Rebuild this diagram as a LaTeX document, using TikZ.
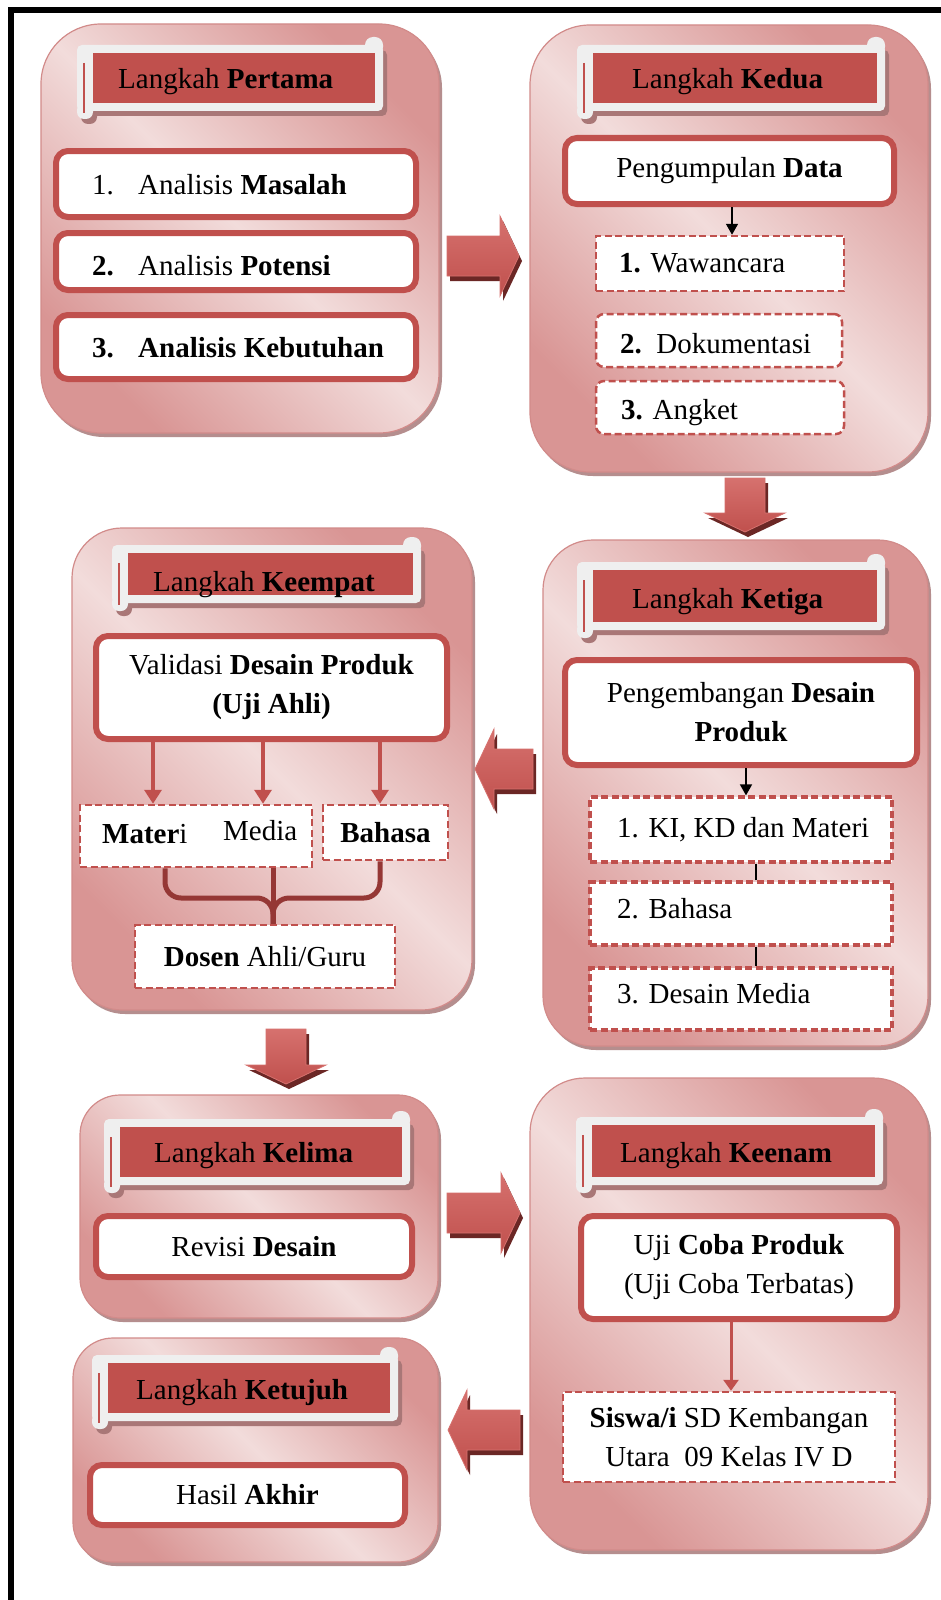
\documentclass[tikz,border=0pt]{standalone}
\usepackage{fontspec}
\setmainfont{Liberation Serif}
\usetikzlibrary{shadows,arrows.meta}
\definecolor{redc}{HTML}{C0504D}
\definecolor{bracec}{HTML}{953735}
\definecolor{pinkL}{HTML}{F2DCDB}
\definecolor{pinkD}{HTML}{D99594}
\definecolor{pinkB}{HTML}{D28B8A}
\definecolor{boxsh}{HTML}{B58E8E}
\definecolor{scrollw}{HTML}{EFEFEF}
\definecolor{scrollsh}{HTML}{A97777}
\definecolor{arrsh}{HTML}{6B2725}
\definecolor{arrlt}{HTML}{D6716E}

\newcommand{\scrollbanner}[4]{%
  \fill[scrollsh,rounded corners=5pt] (#1-12,#2-3) rectangle (#3+12,#4+13);
  \fill[scrollsh,rounded corners=7pt] (#1-12,#4+5) rectangle (#1+4,#4+21);
  \fill[scrollw,rounded corners=5pt] (#1-16,#2-8) rectangle (#3+8,#4+8);
  \fill[scrollw,rounded corners=8pt] (#3-10,#2-16) rectangle (#3+8,#2+2);
  \fill[scrollw,rounded corners=7pt] (#1-16,#4) rectangle (#1,#4+16);
  \fill[redc] (#1,#2) rectangle (#3,#4);
  \draw[redc,line width=1.2pt] (#1-9,#2+10) -- (#1-9,#4+10);
}
\newcommand{\blockarrow}[4]{%
  \begin{scope}[shift={(#1+3,#2+5)},rotate=#3]
    \fill[arrsh] (-#4,-20) -- (#4-19,-20) -- (#4-19,-40) -- (#4,0) -- (#4-19,40) -- (#4-19,20) -- (-#4,20) -- cycle;
  \end{scope}
  \begin{scope}[shift={(#1,#2)},rotate=#3]
    \shade[top color=arrlt,bottom color=redc,draw=arrlt,line width=0.8pt] (-#4,-20) -- (#4-19,-20) -- (#4-19,-40) -- (#4,0) -- (#4-19,40) -- (#4-19,20) -- (-#4,20) -- cycle;
  \end{scope}
}

\tikzset{
  bigbox/.style={draw=pinkB, line width=1.2pt, inner sep=0pt,
    left color=pinkD, right color=pinkD, middle color=pinkL, shading angle=135,
    drop shadow={shadow xshift=3pt, shadow yshift=-4pt, fill=boxsh, opacity=1}},
  txt/.style={inner sep=0pt, font=\fontsize{29pt}{39pt}\selectfont},
  solidbox/.style={txt, draw=redc, line width=6pt, fill=white, rounded corners=12pt, align=center},
  dashbox/.style={txt, draw=redc, line width=2.5pt, fill=white, dash pattern=on 7pt off 3.5pt, align=center},
  dashboxb/.style={dashbox, line width=3.2pt},
  redarrow/.style={draw=redc, line width=3.5pt, -{Triangle[length=14pt,width=17pt]}},
  blackarrow/.style={draw=black, line width=1.6pt, -{Triangle[length=11pt,width=12pt]}},
  bracestyle/.style={draw=bracec, line width=5pt, rounded corners=16pt},
}

\begin{document}
\begin{tikzpicture}[x=1pt,y=-1pt]
\useasboundingbox (0,0) rectangle (941,1600);
\fill[white] (0,0) rectangle (941,1600);
% frame
\draw[line width=6pt] (11,1600) -- (11,10) -- (941,10);

% big boxes
\node[bigbox, minimum width=398pt, minimum height=409pt, rounded corners=60pt] (b1) at (240,228.5) {};
\node[bigbox, minimum width=398pt, minimum height=447pt, rounded corners=60pt] (b2) at (729,248.5) {};
\node[bigbox, minimum width=385pt, minimum height=506pt, rounded corners=50pt] (b3) at (735.5,793) {};
\node[bigbox, minimum width=400pt, minimum height=482pt, rounded corners=50pt] (b4) at (272,769) {};
\node[bigbox, minimum width=358pt, minimum height=223pt, rounded corners=40pt] (b5) at (259,1206.5) {};
\node[bigbox, minimum width=398pt, minimum height=472pt, rounded corners=55pt] (b6) at (729,1314) {};
\node[bigbox, minimum width=365pt, minimum height=224pt, rounded corners=40pt] (b7) at (255.5,1450) {};

% block arrows between steps
\blockarrow{483}{256}{0}{36}
\blockarrow{745}{505}{-90}{27}
\blockarrow{504}{769}{180}{29}
\blockarrow{286}{1056.5}{-90}{27.5}
\blockarrow{483.5}{1213}{0}{36.5}
\blockarrow{484}{1430}{180}{36}

% banners
\scrollbanner{93}{53}{375}{103}
\scrollbanner{593}{53}{877}{103}
\scrollbanner{593}{570}{877}{622}
\scrollbanner{128}{553}{413}{595}
\scrollbanner{120}{1127}{402}{1177}
\scrollbanner{592}{1125}{875}{1177}
\scrollbanner{108}{1363}{390}{1413}

\node[txt, anchor=base west] (t1) at (118,89) {Langkah \textbf{Pertama}};
\node[txt, anchor=base west] (t2) at (632,89) {Langkah \textbf{Kedua}};
\node[txt, anchor=base west] (t3) at (632,608) {Langkah \textbf{Ketiga}};
\node[txt, anchor=base west] (t4) at (153,591) {Langkah \textbf{Keempat}};
\node[txt, anchor=base west] (t5) at (154,1162) {Langkah \textbf{Kelima}};
\node[txt, anchor=base west] (t6) at (620,1162) {Langkah \textbf{Keenam}};
\node[txt, anchor=base west] (t7) at (136,1399) {Langkah \textbf{Ketujuh}};

% step 1
\node[solidbox, minimum width=360pt, minimum height=66pt] (i11) at (236,184) {};
\node[solidbox, minimum width=360pt, minimum height=57pt] (i12) at (236,261.5) {};
\node[solidbox, minimum width=360pt, minimum height=64pt] (i13) at (236,347) {};
\node[txt, anchor=base west] (n11) at (92,194) {\makebox[46pt][l]{1.}Analisis \textbf{Masalah}};
\node[txt, anchor=base west] (n12) at (92,275) {\makebox[46pt][l]{\textbf{2.}}Analisis \textbf{Potensi}};
\node[txt, anchor=base west] (n13) at (92,357) {\makebox[46pt][l]{\textbf{3.}}\textbf{Analisis Kebutuhan}};

% step 2
\node[solidbox, minimum width=329pt, minimum height=66pt] (i21) at (729.5,171) {Pengumpulan \textbf{Data}};
\node[dashbox, minimum width=248pt, minimum height=55pt] (i22) at (720,263.5) {};
\node[dashbox, minimum width=246pt, minimum height=53pt, rounded corners=8pt] (i23) at (719,340.5) {};
\node[dashbox, minimum width=248pt, minimum height=53pt, rounded corners=8pt] (i24) at (720,407.5) {};
\node[txt, anchor=base west] (n22) at (619,272) {\textbf{1.} Wawancara};
\node[txt, anchor=base west] (n23) at (620,353) {\textbf{2.}~~Dokumentasi};
\node[txt, anchor=base west] (n24) at (621,419) {\textbf{3.} Angket};
\coordinate (ax2) at (732,0);
\draw[blackarrow] (i21.south -| ax2) -- (i22.north -| ax2);

% step 3
\node[solidbox, minimum width=352pt, minimum height=105pt] (i31) at (741,712.5) {Pengembangan \textbf{Desain}\\\textbf{Produk}};
\node[dashboxb, minimum width=302pt, minimum height=65pt] (i32) at (741,829.5) {};
\node[dashboxb, minimum width=302pt, minimum height=63pt] (i33) at (741,913.5) {};
\node[dashboxb, minimum width=302pt, minimum height=62pt] (i34) at (741,999) {};
\node[txt, anchor=base west] (n32) at (617,837) {1. KI, KD dan Materi};
\node[txt, anchor=base west] (n33) at (617,918) {2. Bahasa};
\node[txt, anchor=base west] (n34) at (617,1003) {3. Desain Media};
\coordinate (ax3) at (746,0);
\coordinate (lx3) at (756,0);
\draw[blackarrow] (i31.south -| ax3) -- (i32.north -| ax3);
\draw[line width=1.3pt] (i32.south -| lx3) -- (i33.north -| lx3);
\draw[line width=1.3pt] (i33.south -| lx3) -- (i34.north -| lx3);

% step 4
\node[solidbox, minimum width=351pt, minimum height=103pt] (i41) at (271.5,687.5) {Validasi \textbf{Desain Produk}\\\textbf{(Uji Ahli)}};
\node[dashbox, minimum width=232pt, minimum height=62pt] (i42) at (196,836) {};
\node[dashbox, minimum width=125pt, minimum height=55pt] (i43) at (385.5,832.5) {\textbf{Bahasa}};
\node[dashbox, minimum width=260pt, minimum height=63pt] (i44) at (265,956.5) {\textbf{Dosen} Ahli/Guru};
\node[txt, anchor=base west] (n42a) at (102,843) {\textbf{Mater}i};
\node[txt, anchor=base west] (n42b) at (223,840) {Media};
\coordinate (ra) at (153,0);
\coordinate (rb) at (263,0);
\coordinate (rc) at (380,0);
\draw[redarrow] (i41.south -| ra) -- (i42.north -| ra);
\draw[redarrow] (i41.south -| rb) -- (i42.north -| rb);
\draw[redarrow] (i41.south -| rc) -- (i43.north -| rc);
\coordinate (bl) at (165,0);
\coordinate (br) at (380,0);
\coordinate (bj) at (273,898);
\draw[bracestyle] (i42.south -| bl) -- (bl |- bj) -- (bj) -- (i44.north -| bj);
\draw[bracestyle] (i43.south -| br) -- (br |- bj) -- (bj) -- (i44.north -| bj);
\draw[draw=bracec, line width=5pt] (i42.south -| bj) -- (i44.north -| bj);

% step 5
\node[solidbox, minimum width=316pt, minimum height=61pt] (i51) at (254,1246.5) {Revisi \textbf{Desain}};

% step 6
\node[solidbox, minimum width=316pt, minimum height=103pt] (i61) at (739,1267.5) {Uji \textbf{Coba Produk}\\(Uji Coba Terbatas)};
\node[dashbox, minimum width=332pt, minimum height=90pt] (i62) at (729,1437) {\textbf{Siswa/i} SD Kembangan\\Utara~~09 Kelas IV D};
\coordinate (ax6) at (731,0);
\draw[draw=redc, line width=3pt, -{Triangle[length=11pt,width=15pt]}] (i61.south -| ax6) -- (i62.north -| ax6);

% step 7
\node[solidbox, minimum width=315pt, minimum height=60pt] (i71) at (247.5,1495) {Hasil \textbf{Akhir}};
\end{tikzpicture}
\end{document}
